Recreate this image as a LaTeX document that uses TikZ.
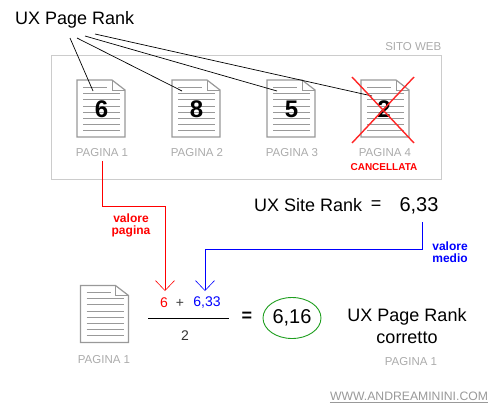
\documentclass[tikz,border=0pt]{standalone}
\usepackage{fontspec}
\setmainfont{Liberation Sans}
\usetikzlibrary{shapes.geometric, arrows.meta, positioning, calc}
\definecolor{framegray}{HTML}{CCCCCC}
\definecolor{labelgray}{HTML}{ABABAB}
\definecolor{docgray}{HTML}{999999}
\definecolor{okgreen}{HTML}{1E9E1E}
\newcommand{\fs}[1]{\fontsize{#1}{#1}\selectfont}
\tikzset{
  ranklabel/.style={inner sep=0pt, align=center, font=\fs{18}},
  rankvalue/.style={inner sep=0pt, font=\fs{20}},
  pagelabel/.style={inner sep=0pt, text=labelgray, font=\fs{11.5}},
  pagedigit/.style={inner sep=0pt, font=\fs{24}\bfseries},
  noteblue/.style={inner sep=0pt, align=center, text=blue, font=\fs{12}\bfseries},
  notered/.style={inner sep=0pt, align=center, text=red, font=\fs{12}\bfseries},
  formula/.style={inner sep=0pt, font=\fs{14}},
  rankline/.style={draw=black, line width=0.7pt},
  tipline/.style={line width=1pt, -{Straight Barb[length=10pt, width=19pt, line width=0.6pt]}},
  pagedoc/.pic={
    \draw[draw=docgray, fill=white, line width=1.2pt]
      (0,0) -- (35,0) -- (48,10) -- (48,57) -- (0,57) -- cycle;
    \draw[draw=docgray, line width=1pt] (35,0) -- (35,10) -- (48,10);
    \draw[draw=docgray, line width=0.8pt] (6,7) -- (30,7);
    \foreach \yy in {13,19,26,32,38,44,50} {
      \draw[draw=docgray, line width=0.8pt] (6,\yy) -- (43,\yy);
    }
  },
}
\begin{document}
\begin{tikzpicture}[x=1pt, y=-1pt]
  \useasboundingbox (0,0) rectangle (500,410);

  \node[draw=framegray, line width=1pt, minimum width=390pt, minimum height=124pt, inner sep=0pt] (site) at (246,117) {};
  \node[pagelabel, anchor=south east] (sitelabel) at (441.5,50.5) {SITO WEB};

  \node[ranklabel, anchor=west] (pagerank) at (15,20) {UX Page Rank};

  % --- pages of the site ---
  \pic at (77,80) {pagedoc};
  \pic at (172,80) {pagedoc};
  \pic at (267,80) {pagedoc};
  \pic at (361,80) {pagedoc};
  \node[pagedigit] (diga) at (101.5,109) {6};
  \node[pagedigit] (digb) at (196.5,109) {8};
  \node[pagedigit] (digc) at (291.5,109) {5};
  \node[pagedigit] (digd) at (384,109) {2};
  \node[pagelabel] (laba) at (102,152.5) {PAGINA 1};
  \node[pagelabel] (labb) at (197,152.5) {PAGINA 2};
  \node[pagelabel] (labc) at (292,152.5) {PAGINA 3};
  \node[pagelabel] (labd) at (385,152.5) {PAGINA 4};
  \node[inner sep=0pt, text=red, font=\fs{10}\bfseries] (cancel) at (384,167.5) {CANCELLATA};

  % --- lines to the pages ---
  \coordinate (enda) at (93,91);
  \coordinate (endb) at (182,91);
  \coordinate (endc) at (277,91);
  \coordinate (endd) at (372,96);
  \draw[rankline] (70,38) -- (enda);
  \draw[rankline] (77,38) -- (endb);
  \draw[rankline] (85,36) -- (endc);
  \draw[rankline] (95,34) -- (endd);

  \coordinate (crossa) at (352,77);
  \coordinate (crossb) at (414,143);
  \coordinate (crossc) at (414,77);
  \coordinate (crossd) at (352,143);
  \draw[red!85!white, line width=1.4pt] (crossa) -- (crossb);
  \draw[red!85!white, line width=1.4pt] (crossc) -- (crossd);

  % --- site rank ---
  \node[ranklabel, anchor=west] (siterank) at (254,205) {UX Site Rank};
  \node[ranklabel] (siteeq) at (376,205) {=};
  \node[rankvalue] (siteval) at (419,206) {6,33};

  % --- formula ---
  \pic at (80.5,285.5) {pagedoc};
  \node[pagelabel] (labe) at (104,359.5) {PAGINA 1};
  \node[formula, text=red] (numred) at (164,303) {6};
  \node[formula, text=black!75] (numplus) at (180,303) {+};
  \node[formula, text=blue] (numblue) at (207,303) {6,33};
  \node[formula, text=black!80] (numtwo) at (185,336) {2};
  \coordinate (fraca) at (148,318);
  \coordinate (fracb) at (229,318);
  \draw[line width=1pt] (fraca) -- (fracb);
  \node[inner sep=0pt, font=\fs{18}\bfseries] (resulteq) at (247,317) {=};
  \node[ellipse, draw=okgreen, line width=0.9pt, minimum width=58pt, minimum height=41pt, inner sep=0pt, font=\fs{20}] (result) at (292,318) {6,16};
  \node[ranklabel] (correct) at (407,326) {UX Page Rank\\[4pt]corretto};
  \node[pagelabel] (labf) at (411,362) {PAGINA 1};

  % --- values carried to the formula ---
  \coordinate (bendred) at (165,206);
  \coordinate (tipred) at (165,291);
  \coordinate (startblue) at (422,222);
  \coordinate (bendblue) at (205,249);
  \coordinate (tipblue) at (205,291);
  \draw[tipline, red] ($(laba.south)+(0,4)$) |- (bendred) -- (tipred);
  \draw[tipline, blue] (startblue) |- (bendblue) -- (tipblue);
  \node[notered] (notepage) at (131,225) {valore\\[0pt]pagina};
  \node[noteblue] (notemean) at (450,252) {valore\\[0pt]medio};

  \node[inner sep=0pt, text=docgray, font=\fs{12.2}] (website) at (409,396) {WWW.ANDREAMININI.COM};
  \draw[docgray, line width=0.9pt] ($(website.south west)+(0,1.5)$) -- ($(website.south east)+(0,1.5)$);
\end{tikzpicture}
\end{document}
